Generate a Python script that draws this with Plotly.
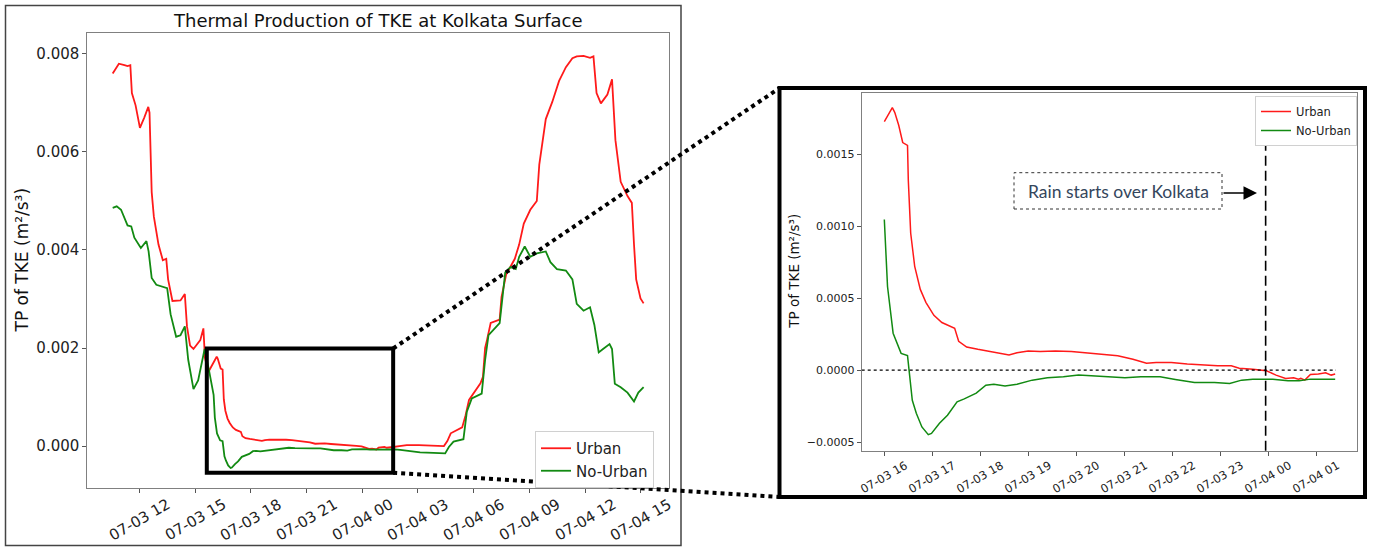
import plotly.graph_objects as go
from datetime import datetime

W, H = 1373, 547
YEAR = 2024

# ---------------- data ----------------
URBAN_TIME = [
    "07-03 10:34", "07-03 10:54", "07-03 11:12", "07-03 11:22", "07-03 11:31", "07-03 11:36",
    "07-03 11:48", "07-03 12:02", "07-03 12:16", "07-03 12:29", "07-03 12:33", "07-03 12:40",
    "07-03 12:47", "07-03 13:02", "07-03 13:16", "07-03 13:27", "07-03 13:33", "07-03 13:47",
    "07-03 14:13", "07-03 14:27", "07-03 14:34", "07-03 14:44", "07-03 14:55", "07-03 15:17",
    "07-03 15:27", "07-03 15:32", "07-03 15:43",
    "07-03 16:00", "07-03 16:04", "07-03 16:10", "07-03 16:13", "07-03 16:18", "07-03 16:23",
    "07-03 16:29", "07-03 16:30", "07-03 16:33", "07-03 16:38", "07-03 16:45", "07-03 16:52",
    "07-03 17:02", "07-03 17:12", "07-03 17:21", "07-03 17:28", "07-03 17:33", "07-03 17:43",
    "07-03 17:57", "07-03 18:12", "07-03 18:27", "07-03 18:36", "07-03 18:46", "07-03 19:00",
    "07-03 19:15", "07-03 19:34", "07-03 19:54", "07-03 20:13", "07-03 20:32", "07-03 20:52",
    "07-03 21:11", "07-03 21:28", "07-03 21:40", "07-03 21:59", "07-03 22:19", "07-03 22:38",
    "07-03 22:57", "07-03 23:14", "07-03 23:24", "07-03 23:41", "07-03 23:58", "07-04 00:10",
    "07-04 00:22", "07-04 00:32", "07-04 00:38", "07-04 00:41", "07-04 00:46", "07-04 00:53",
    "07-04 01:03", "07-04 01:12", "07-04 01:19", "07-04 01:24",
    "07-04 01:40", "07-04 02:00", "07-04 02:24", "07-04 03:03", "07-04 03:51", "07-04 04:24",
    "07-04 04:35", "07-04 04:46", "07-04 05:23", "07-04 05:34", "07-04 05:45", "07-04 06:22",
    "07-04 06:30", "07-04 06:37", "07-04 06:43", "07-04 06:55", "07-04 07:24", "07-04 07:30",
    "07-04 07:45", "07-04 08:13", "07-04 08:27", "07-04 08:42", "07-04 09:03", "07-04 09:24",
    "07-04 09:32", "07-04 09:53", "07-04 10:14", "07-04 10:36", "07-04 10:58", "07-04 11:19",
    "07-04 11:33", "07-04 11:55", "07-04 12:16", "07-04 12:27", "07-04 12:37", "07-04 12:51",
    "07-04 13:12", "07-04 13:27", "07-04 13:38", "07-04 13:55", "07-04 14:17", "07-04 14:31",
    "07-04 14:38", "07-04 14:45", "07-04 14:59", "07-04 15:09",
]
URBAN_TP = [
    0.00760, 0.00780, 0.00777, 0.00775, 0.00777, 0.00720,
    0.00695, 0.00649, 0.00670, 0.00692, 0.00680, 0.00518,
    0.00468, 0.00411, 0.00379, 0.00382, 0.00340, 0.00296,
    0.00297, 0.00310, 0.00244, 0.00205, 0.00198, 0.00216,
    0.00240, 0.00180, 0.00151,
    0.001725, 0.001767, 0.001822, 0.00179, 0.00170, 0.00158,
    0.00156, 0.00132, 0.00095, 0.00072, 0.00056, 0.00047,
    0.00038, 0.00033, 0.00031, 0.00029, 0.00020, 0.00016,
    0.000144, 0.000128, 0.00011, 0.000105, 0.00012, 0.000132,
    0.000128, 0.000132, 0.000128, 0.00012, 0.00011, 0.00010,
    0.000075, 0.000047, 0.000053, 0.000053, 0.000042, 0.000035,
    0.00003, 0.00003, 0.000012, 0.000005, -0.000005, -0.000035,
    -0.000058, -0.000053, -0.000063, -0.000058, -0.00007, -0.00003,
    -0.000028, -0.000019, -0.000035, -0.000028,
    -0.00002, 0.00000, 0.00002, 0.00002, 0.00000, 0.00000,
    0.00010, 0.00026, 0.00038, 0.00063, 0.00094, 0.00128,
    0.00141, 0.00200, 0.00216, 0.00251, 0.00258, 0.00304,
    0.00350, 0.00382, 0.00411, 0.00454, 0.00482, 0.00500,
    0.00574, 0.00667, 0.00702, 0.00745, 0.00773, 0.00791,
    0.00795, 0.00796, 0.00792, 0.00795, 0.00720, 0.00699,
    0.00717, 0.00748, 0.00624, 0.00539, 0.00510, 0.00496,
    0.00411, 0.00340, 0.00301, 0.00291,
]

NOURBAN_TIME = [
    "07-03 10:34", "07-03 10:47", "07-03 11:01", "07-03 11:22", "07-03 11:34", "07-03 11:44",
    "07-03 12:05", "07-03 12:23", "07-03 12:30", "07-03 12:40", "07-03 12:55", "07-03 13:30",
    "07-03 13:41", "07-03 13:59", "07-03 14:13", "07-03 14:27", "07-03 14:38", "07-03 14:55",
    "07-03 15:10", "07-03 15:24", "07-03 15:31", "07-03 15:45",
    "07-03 16:00", "07-03 16:04", "07-03 16:11", "07-03 16:21", "07-03 16:29", "07-03 16:31",
    "07-03 16:35", "07-03 16:40", "07-03 16:47", "07-03 16:55", "07-03 16:59", "07-03 17:09",
    "07-03 17:19", "07-03 17:31", "07-03 17:40", "07-03 17:55", "07-03 18:07", "07-03 18:17",
    "07-03 18:31", "07-03 18:46", "07-03 19:05", "07-03 19:24", "07-03 19:44", "07-03 20:03",
    "07-03 20:23", "07-03 20:42", "07-03 21:01", "07-03 21:21", "07-03 21:45", "07-03 22:04",
    "07-03 22:28", "07-03 22:53", "07-03 23:12", "07-03 23:27", "07-03 23:41", "07-04 00:06",
    "07-04 00:25", "07-04 00:39", "07-04 00:53", "07-04 01:08", "07-04 01:24",
    "07-04 01:45", "07-04 02:03", "07-04 03:07", "07-04 03:50", "07-04 04:28", "07-04 04:40",
    "07-04 04:55", "07-04 05:27", "07-04 05:38", "07-04 05:54", "07-04 06:26", "07-04 06:37",
    "07-04 06:48", "07-04 07:24", "07-04 07:30", "07-04 07:42", "07-04 07:59", "07-04 08:16",
    "07-04 08:27", "07-04 08:45", "07-04 09:03", "07-04 09:24", "07-04 09:53", "07-04 10:08",
    "07-04 10:29", "07-04 10:58", "07-04 11:19", "07-04 11:33", "07-04 11:55", "07-04 12:16",
    "07-04 12:30", "07-04 12:44", "07-04 12:58", "07-04 13:19", "07-04 13:27", "07-04 13:36",
    "07-04 13:55", "07-04 14:17", "07-04 14:38", "07-04 14:52", "07-04 15:09",
]
NOURBAN_TP = [
    0.00486, 0.00489, 0.00482, 0.00450, 0.00448, 0.00425,
    0.00404, 0.00418, 0.00397, 0.00343, 0.00329, 0.00322,
    0.00269, 0.00223, 0.00226, 0.00244, 0.00176, 0.00116,
    0.00134, 0.00176, 0.00198, 0.00155,
    0.001046, 0.00058, 0.000256, 0.000116, 0.00010, 0.0,
    -0.00021, -0.00030, -0.000395, -0.000449, -0.00044, -0.00037,
    -0.000314, -0.00022, -0.00020, -0.00016, -0.000105, -0.000098,
    -0.00011, -0.000098, -0.00007, -0.000054, -0.000047, -0.000035,
    -0.000042, -0.000047, -0.000054, -0.000047, -0.000047, -0.000065,
    -0.000086, -0.000086, -0.000093, -0.00007, -0.000063, -0.000063,
    -0.000074, -0.000074, -0.000063, -0.000063, -0.000063,
    -0.00007, -0.00008, -0.00013, -0.00014, -0.00015, -0.00002,
    0.00009, 0.00014, 0.00070, 0.00097, 0.00107, 0.00175,
    0.00226, 0.00251, 0.00283, 0.00354, 0.00365, 0.00361,
    0.00386, 0.00407, 0.00386, 0.00393, 0.00397, 0.00375,
    0.00361, 0.00358, 0.00340, 0.00290, 0.00276, 0.00283,
    0.00247, 0.00191, 0.00198, 0.00208, 0.00198, 0.00127,
    0.00120, 0.00109, 0.00091, 0.00109, 0.00120,
]

INSET_START = "07-03 16:00"
INSET_END = "07-04 01:25"
RAIN_START = "07-03 23:57"

MAIN_TICKS = ["07-03 12:00", "07-03 15:00", "07-03 18:00", "07-03 21:00", "07-04 00:00",
              "07-04 03:00", "07-04 06:00", "07-04 09:00", "07-04 12:00", "07-04 15:00"]
MAIN_YTICKS = [0.000, 0.002, 0.004, 0.006, 0.008]
MAIN_YLABELS = ["0.000", "0.002", "0.004", "0.006", "0.008"]
INSET_TICKS = ["07-03 16:00", "07-03 17:00", "07-03 18:00", "07-03 19:00", "07-03 20:00",
               "07-03 21:00", "07-03 22:00", "07-03 23:00", "07-04 00:00", "07-04 01:00"]
INSET_YTICKS = [-0.0005, 0.0, 0.0005, 0.0010, 0.0015]
INSET_YLABELS = ["\u22120.0005", "0.0000", "0.0005", "0.0010", "0.0015"]

# zoom box drawn on the main chart
ZOOM_X = ["07-03 15:38", "07-04 01:40"]
ZOOM_Y = [-0.000544, 0.00199]


def ts(s):
    return datetime.strptime(f"{YEAR}-{s}", "%Y-%m-%d %H:%M")


def tick_label(s):
    return ts(s).strftime("%m-%d %H")


u_t = [ts(s) for s in URBAN_TIME]
n_t = [ts(s) for s in NOURBAN_TIME]
i0, i1 = ts(INSET_START), ts(INSET_END)
ui = [(t, v) for t, v in zip(u_t, URBAN_TP) if i0 <= t <= i1]
ni = [(t, v) for t, v in zip(n_t, NOURBAN_TP) if i0 <= t <= i1]

RED = "#ff1a1a"
GREEN = "#128a12"
FONT = "DejaVu Sans"

# pixel geometry
M_L, M_R, M_T, M_B = 87.3, 669.3, 33.3, 487.7
I_L, I_R, I_T, I_B = 861.7, 1357.3, 92.7, 450.7

MAIN_XR = [datetime(YEAR, 7, 3, 9, 12), datetime(YEAR, 7, 4, 16, 32)]
MAIN_YR = [-0.00085, 0.00842]
INS_XR = [datetime(YEAR, 7, 3, 15, 31, 42), datetime(YEAR, 7, 4, 1, 51, 40)]
INS_YR = [-0.00056, 0.001926]


def px(x):
    return x / W


def py(y):
    return 1 - y / H


def main_to_px(t, v):
    fx = (t - MAIN_XR[0]) / (MAIN_XR[1] - MAIN_XR[0])
    fy = (v - MAIN_YR[0]) / (MAIN_YR[1] - MAIN_YR[0])
    return M_L + fx * (M_R - M_L), M_B - fy * (M_B - M_T)


fig = go.Figure()
fig.add_trace(go.Scatter(x=u_t, y=URBAN_TP, mode="lines", name="Urban",
                         line=dict(color=RED, width=1.8), xaxis="x", yaxis="y", legend="legend"))
fig.add_trace(go.Scatter(x=n_t, y=NOURBAN_TP, mode="lines", name="No-Urban",
                         line=dict(color=GREEN, width=1.8), xaxis="x", yaxis="y", legend="legend"))
fig.add_trace(go.Scatter(x=[p[0] for p in ui], y=[p[1] for p in ui], mode="lines", name="Urban",
                         line=dict(color=RED, width=1.5), xaxis="x2", yaxis="y2", legend="legend2"))
fig.add_trace(go.Scatter(x=[p[0] for p in ni], y=[p[1] for p in ni], mode="lines", name="No-Urban",
                         line=dict(color=GREEN, width=1.5), xaxis="x2", yaxis="y2", legend="legend2"))

axis_common = dict(showgrid=False, zeroline=False, showline=True, mirror=True,
                   linecolor="#808080", linewidth=1, ticks="outside", ticklen=4,
                   tickcolor="#555555")

fig.update_layout(
    width=W, height=H, margin=dict(l=0, r=0, t=0, b=0),
    paper_bgcolor="white", plot_bgcolor="white",
    font=dict(family=FONT, color="#222222"),
    xaxis=dict(domain=[px(M_L), px(M_R)], type="date", range=MAIN_XR,
               tickvals=[ts(s) for s in MAIN_TICKS], showticklabels=False, anchor="y", **axis_common),
    yaxis=dict(domain=[py(M_B), py(M_T)], range=MAIN_YR, tickvals=MAIN_YTICKS,
               ticktext=MAIN_YLABELS, anchor="x",
               tickfont=dict(family=FONT, size=15, color="#222222"), **axis_common),
    xaxis2=dict(domain=[px(I_L), px(I_R)], type="date", range=INS_XR,
                tickvals=[ts(s) for s in INSET_TICKS], showticklabels=False, anchor="y2", **axis_common),
    yaxis2=dict(domain=[py(I_B), py(I_T)], range=INS_YR, tickvals=INSET_YTICKS,
                ticktext=INSET_YLABELS, anchor="x2",
                tickfont=dict(family=FONT, size=11, color="#222222"), **axis_common),
    legend=dict(x=px(535), y=py(431), xanchor="left", yanchor="top",
                bgcolor="white", bordercolor="#d0d0d0", borderwidth=1,
                font=dict(family=FONT, size=15, color="#222222"), tracegroupgap=0),
    legend2=dict(x=px(1255), y=py(96), xanchor="left", yanchor="top",
                 bgcolor="white", bordercolor="#d0d0d0", borderwidth=1,
                 font=dict(family=FONT, size=11.5, color="#222222"), tracegroupgap=0),
    showlegend=True,
)

shapes = []
ann = []

# outer frames
shapes.append(dict(type="rect", xref="paper", yref="paper", x0=px(5.5), x1=px(681), y0=py(545.5), y1=py(5.5),
                   line=dict(color="#444444", width=1.5)))
shapes.append(dict(type="rect", xref="paper", yref="paper", x0=px(779.5), x1=px(1365), y0=py(497), y1=py(88),
                   line=dict(color="black", width=4)))

# zoom box on main chart
zx0, zx1 = ts(ZOOM_X[0]), ts(ZOOM_X[1])
shapes.append(dict(type="rect", xref="x", yref="y", x0=zx0, x1=zx1, y0=ZOOM_Y[0], y1=ZOOM_Y[1],
                   line=dict(color="black", width=4)))
# connectors
tr = main_to_px(zx1, ZOOM_Y[1])
br = main_to_px(zx1, ZOOM_Y[0])
shapes.append(dict(type="line", xref="paper", yref="paper", x0=px(tr[0]), y0=py(tr[1]), x1=px(779.5), y1=py(88),
                   line=dict(color="black", width=4, dash="dot")))
shapes.append(dict(type="line", xref="paper", yref="paper", x0=px(br[0]), y0=py(br[1]), x1=px(779.5), y1=py(497),
                   line=dict(color="black", width=4, dash="dot")))

# inset reference lines
shapes.append(dict(type="line", xref="x2", yref="y2", x0=INS_XR[0], x1=i1, y0=0, y1=0,
                   line=dict(color="black", width=1.2, dash="dot")))
# rain-start marker: runs from the axis bottom up to just under the inset legend
shapes.append(dict(type="line", xref="x2", yref="paper", x0=ts(RAIN_START), x1=ts(RAIN_START),
                   y0=py(I_B), y1=py(141),
                   line=dict(color="black", width=1.6, dash="10px,5px")))
# annotation box
shapes.append(dict(type="rect", xref="paper", yref="paper", x0=px(1014), x1=px(1222), y0=py(209), y1=py(172.7),
                   line=dict(color="#333333", width=1, dash="dot")))
ann.append(dict(xref="paper", yref="paper", x=px(1118), y=py(191), text="Rain starts over Kolkata",
                showarrow=False, font=dict(family="Lato", size=17.5, color="#34465c"),
                xanchor="center", yanchor="middle"))
ann.append(dict(xref="paper", yref="paper", x=px(1257), y=py(193), ax=-35, ay=0, text="",
                showarrow=True, arrowhead=2, arrowsize=1.8, arrowwidth=1.5, arrowcolor="black"))

# title and axis titles
ann.append(dict(xref="paper", yref="paper", x=px((M_L + M_R) / 2), y=py(20),
                text="Thermal Production of TKE at Kolkata Surface", showarrow=False,
                font=dict(family=FONT, size=18, color="#111111"), xanchor="center", yanchor="middle"))
ann.append(dict(xref="paper", yref="paper", x=px(21), y=py((M_T + M_B) / 2), text="TP of TKE (m\u00b2/s\u00b3)",
                showarrow=False, textangle=-90, font=dict(family=FONT, size=17, color="#111111"),
                xanchor="center", yanchor="middle"))
ann.append(dict(xref="paper", yref="paper", x=px(794), y=py((I_T + I_B) / 2), text="TP of TKE (m\u00b2/s\u00b3)",
                showarrow=False, textangle=-90, font=dict(family=FONT, size=13.5, color="#111111"),
                xanchor="center", yanchor="middle"))

# rotated x tick labels (centred on ticks)
for s in MAIN_TICKS:
    ann.append(dict(xref="x", yref="paper", x=ts(s), y=py(520), text=tick_label(s), showarrow=False,
                    textangle=-30, font=dict(family=FONT, size=15, color="#222222"),
                    xanchor="center", yanchor="middle"))
for s in INSET_TICKS:
    ann.append(dict(xref="x2", yref="paper", x=ts(s), y=py(477), text=tick_label(s), showarrow=False,
                    textangle=-30, font=dict(family=FONT, size=11.5, color="#222222"),
                    xanchor="center", yanchor="middle"))

fig.update_layout(shapes=shapes, annotations=ann)
fig.write_html("out.html", config={"displayModeBar": False},
               post_script="document.body.style.margin='0';document.body.style.overflow='hidden';")
